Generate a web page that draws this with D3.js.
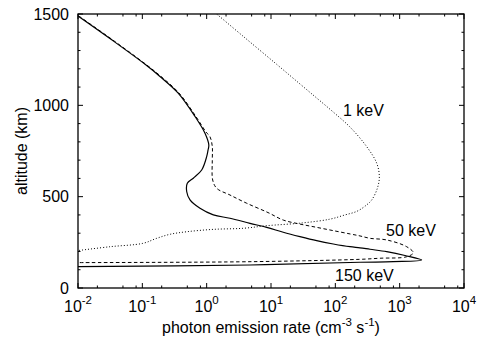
<!DOCTYPE html>
<html><head><meta charset="utf-8">
<script src="https://cdn.jsdelivr.net/npm/d3@7"></script>
<style>body{margin:0;background:#fff}svg text{font-family:"Liberation Sans",Arial,Helvetica,sans-serif;fill:#000}</style>
</head><body><svg id="c" width="490" height="343"></svg>
<script>
// photon emission rate (cm^-3 s^-1), altitude (km)
const kev1 = [[1.43,1500],[3.72,1377],[12.3,1224],[28.2,1117],[51.3,1040],[93,963],[169,881],[307,774],[440,683],[483,609],[450,546],[368,482],[307,455],[217,420],[141,400],[82.7,377],[30.3,356],[8.57,341],[3.72,327],[1.27,321],[0.49,308],[0.269,294],[0.167,272],[0.1035,245],[0.0314,226],[0.01,205]];
const kev50 = [[0.0103,1489],[0.034,1360],[0.112,1226],[0.195,1158],[0.37,1068],[0.68,939],[0.976,854],[1.127,828],[1.223,774],[1.223,701],[1.241,591],[1.432,546],[2.305,509],[4.19,464],[8.98,413],[15.5,372],[28.2,350],[51.3,332],[93,314],[169,296],[242,285],[346,272],[629,263],[1286,226],[1629,193],[1286,171],[495,163],[242,157],[4.72,144],[0.01,139]];
const kev150 = [[0.01,1489],[0.033,1360],[0.109,1226],[0.188,1158],[0.358,1068],[0.659,939],[0.942,847],[1.08,783],[1.05,755],[1.0,719],[0.837,646],[0.62,601],[0.50,573],[0.49,527],[0.551,482],[0.788,436],[1.27,400],[2.3,382],[4.72,354],[8.58,332],[15.5,305],[28.2,281],[51.3,259],[93,241],[169,226],[242,220],[346,212],[629,199],[1210,178],[2200,153],[796,144],[242,141],[4.72,126],[0.01,117]];
const xMajorExp = [-2,-1,0,1,2,3,4];
const xMinorMult = [2,5,8];
const yMajor = [0,500,1000,1500];
const yMinorStep = 100;
const labels = [{t:"1 keV",x:131.5,y:942},{t:"50 keV",x:614,y:285},{t:"150 keV",x:99,y:38}];

const L=78,R=464,T=14,B=288;
const x = d3.scaleLog().domain([1e-2,1e4]).range([L,R]);
const y = d3.scaleLinear().domain([0,1500]).range([B,T]);
const svg = d3.select("#c");

svg.append("clipPath").attr("id","clp").append("rect").attr("x",L).attr("y",T).attr("width",R-L).attr("height",B-T);

const line = d3.line().x(d=>x(d[0])).y(d=>y(d[1])).curve(d3.curveCatmullRom.alpha(0.5));
const g = svg.append("g").attr("clip-path","url(#clp)");
g.append("path").attr("d",line(kev1)).attr("fill","none").attr("stroke","#000").attr("stroke-width",1).attr("stroke-dasharray","1,2");
g.append("path").attr("d",line(kev150)).attr("fill","none").attr("stroke","#000").attr("stroke-width",1.2);
g.append("path").attr("d",line(kev50)).attr("fill","none").attr("stroke","#000").attr("stroke-width",1).attr("stroke-dasharray","3.5,2.5");

// ticks
const tk = svg.append("g").attr("stroke","#000").attr("stroke-width",1);
const xMinor=[];
xMajorExp.slice(0,-1).forEach(e=>xMinorMult.forEach(m=>xMinor.push(m*Math.pow(10,e))));
xMajorExp.forEach(e=>{const px=x(Math.pow(10,e));
  tk.append("line").attr("x1",px).attr("x2",px).attr("y1",B).attr("y2",B-5);
  tk.append("line").attr("x1",px).attr("x2",px).attr("y1",T).attr("y2",T+5);});
xMinor.forEach(v=>{const px=x(v);
  tk.append("line").attr("x1",px).attr("x2",px).attr("y1",B).attr("y2",B-2.5);
  tk.append("line").attr("x1",px).attr("x2",px).attr("y1",T).attr("y2",T+2.5);});
d3.range(0,1501,yMinorStep).forEach(v=>{const py=y(v);const len=yMajor.includes(v)?5:2.5;
  tk.append("line").attr("x1",L).attr("x2",L+len).attr("y1",py).attr("y2",py);
  tk.append("line").attr("x1",R).attr("x2",R-len).attr("y1",py).attr("y2",py);});

svg.append("rect").attr("x",L).attr("y",T).attr("width",R-L).attr("height",B-T).attr("fill","none").attr("stroke","#000").attr("stroke-width",1.3);

// tick labels
yMajor.forEach(v=>svg.append("text").attr("x",L-9).attr("y",y(v)+5.5).attr("text-anchor","end").attr("font-size",16).text(v));
xMajorExp.forEach(e=>{const t=svg.append("text").attr("x",x(Math.pow(10,e))).attr("y",311.5).attr("text-anchor","middle").attr("font-size",16);
  t.append("tspan").text("10");
  t.append("tspan").attr("font-size",11.5).attr("dy",-8).text(e);});

svg.append("text").attr("transform",`translate(27,${(T+B)/2}) rotate(-90)`).attr("text-anchor","middle").attr("font-size",16).text("altitude (km)");
const xt = svg.append("text").attr("x",(L+R)/2).attr("y",333).attr("text-anchor","middle").attr("font-size",16);
xt.append("tspan").text("photon emission rate (cm");
xt.append("tspan").attr("font-size",11.5).attr("dy",-7).text("-3");
xt.append("tspan").attr("dy",7).text(" s");
xt.append("tspan").attr("font-size",11.5).attr("dy",-7).text("-1");
xt.append("tspan").attr("dy",7).text(")");

labels.forEach(l=>svg.append("text").attr("x",x(l.x)).attr("y",y(l.y)).attr("font-size",16).text(l.t));
</script></body></html>
